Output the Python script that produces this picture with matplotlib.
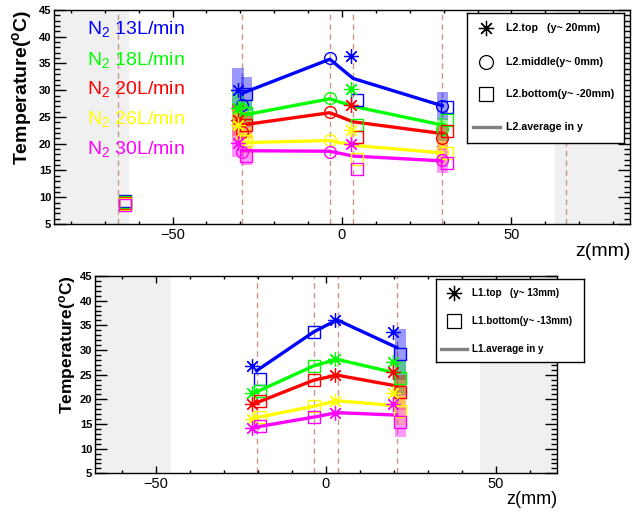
import numpy as np
import matplotlib.pyplot as plt
from matplotlib.ticker import MultipleLocator

plt.rcParams['font.family'] = ['Liberation Sans', 'DejaVu Sans']
plt.rcParams['mathtext.fontset'] = 'custom'
plt.rcParams['mathtext.rm'] = 'Liberation Sans'
plt.rcParams['mathtext.it'] = 'Liberation Sans:italic'
plt.rcParams['mathtext.bf'] = 'Liberation Sans:bold'

# debits d'azote et couleurs
flows = ['13', '18', '20', '26', '30']
colors = ['#0000ff', '#00ff00', '#ff0000', '#ffff00', '#ff00ff']

# ---- L2 (haut) ----
l2_top_z = [-30.7, 2.6]
l2_top = [[30.0, 36.4], [26.6, 30.3], [24.5, 27.2], [23.5, 22.5], [20.1, 20.0]]
l2_top_err = [4.1, 3.0, 3.0, 3.0, 2.5]      # bande a la premiere position
l2_mid_z = [-29.4, -3.6, 29.6]
l2_mid = [[27.3, 36.0, 27.0], [26.5, 28.5, 22.7], [22.2, 26.0, 21.1],
          [20.8, 20.7, 18.4], [18.5, 18.5, 17.0]]
l2_mid_err = [2.6, 2.2, 2.2, 2.2, 2.5]      # bande a la derniere position
l2_bot_z = [-64.0, -28.3, 4.5, 31.0]
l2_bot = [[9.3, 29.3, 28.1, 26.8], [9.1, 25.7, 23.5, 24.4], [8.9, 23.5, 21.2, 22.4],
          [8.8, 20.5, 17.2, 18.3], [8.6, 17.8, 15.2, 16.4]]
l2_bot_err = [3.1, 2.5, 2.5, 2.5, 1.8]      # bande a -28 mm
l2_avg_z = [-29.6, -3.6, 3.3, 29.6]
l2_avg = [[29.4, 35.8, 32.2, 27.1], [25.3, 28.4, 27.0, 23.5], [23.5, 25.8, 24.1, 21.9],
          [20.2, 20.6, 19.7, 18.3], [18.7, 18.6, 17.7, 16.8]]
l2_dashes = [-66, -29.6, -3.6, 3.3, 29.6, 66]
l2_gray = 63

# ---- L1 (bas) ----
l1_top_z = [-21.7, 2.8, 19.7]
l1_top = [[26.8, 36.1, 33.6], [21.3, 28.1, 27.6], [19.1, 24.9, 25.6],
          [16.1, 19.7, 21.2], [14.1, 17.3, 19.1]]
l1_bot_z = [-19.4, -3.5, 21.9]
l1_bot = [[24.1, 33.7, 29.1], [21.7, 26.8, 24.3], [19.7, 23.9, 21.4],
          [16.5, 18.6, 17.7], [14.6, 16.4, 15.3]]
l1_bot_err = [5.1, 3.5, 3.5, 3.0, 2.9]      # bande a la derniere position
l1_avg_z = [-20.4, -3.5, 3.3, 20.9]
l1_avg = [[25.8, 33.7, 36.1, 30.5], [21.5, 26.8, 28.1, 25.3], [19.3, 23.9, 24.9, 22.7],
          [16.3, 18.6, 19.7, 18.7], [14.4, 16.4, 17.3, 16.8]]
l1_dashes = [-20.4, -3.5, 3.6, 20.9]
l1_gray = 45.5

star = (8, 2, 0)
dash_col = '#c8968c'
W, H = 633, 514

fig = plt.figure(figsize=(6.33, 5.14), dpi=100)


def frame(ax, xmax, gray, dashes):
    ax.set_xlim(-xmax, xmax)
    ax.set_ylim(5, 45)
    ax.axvspan(-xmax, -gray, color='#f0f0f0', lw=0, zorder=0)
    ax.axvspan(gray, xmax, color='#f0f0f0', lw=0, zorder=0)
    for d in dashes:
        ax.axvline(d, color=dash_col, ls=(0, (4, 3)), lw=1.0, zorder=1)
    ax.xaxis.set_major_locator(MultipleLocator(50))
    ax.xaxis.set_minor_locator(MultipleLocator(10))
    ax.yaxis.set_major_locator(MultipleLocator(5))
    ax.yaxis.set_minor_locator(MultipleLocator(1))
    ax.tick_params(which='both', direction='in', top=True, right=True, width=1.0)
    ax.tick_params(axis='y', which='major', length=8.5, pad=2.0, labelsize=8)
    ax.tick_params(axis='y', which='minor', length=4.3)
    ax.tick_params(axis='x', which='major', length=5, pad=3, labelsize=10.5)
    ax.tick_params(axis='x', which='minor', length=2.5)
    for lbl in ax.get_yticklabels():
        lbl.set_fontweight('bold')
    for s in ax.spines.values():
        s.set_linewidth(1.0)


def legend_box(rect, handles):
    lg = fig.add_axes(rect)
    lg.set_xlim(0, 1)
    lg.set_ylim(0, 1)
    lg.set_xticks([])
    lg.set_yticks([])
    lg.set_facecolor('white')
    for s in lg.spines.values():
        s.set_linewidth(1.0)
    for kind, y, text, fs in handles:
        if kind == 'line':
            lg.plot([0.038, 0.21], [y, y], color='#808080', lw=2.4)
        else:
            lg.plot(0.125, y, marker=kind, ms=11 if kind == star else 10, mfc='none',
                    mec='black', mew=0.9)
        lg.text(0.248, y, text, fontsize=fs, fontweight='bold', va='center', ha='left')


# ======== panneau du haut ========
ax1 = fig.add_axes([54 / W, 1 - 224 / H, 576 / W, 214 / H])
frame(ax1, 85, l2_gray, l2_dashes)

for i, c in enumerate(colors):
    ax1.bar(l2_top_z[0], 2 * l2_top_err[i], bottom=l2_top[i][0] - l2_top_err[i],
            width=3.3, color=c, alpha=0.4, lw=0, zorder=2)
    ax1.bar(l2_bot_z[1], 2 * l2_bot_err[i], bottom=l2_bot[i][1] - l2_bot_err[i],
            width=3.3, color=c, alpha=0.4, lw=0, zorder=2)
    ax1.bar(l2_mid_z[2], 2 * l2_mid_err[i], bottom=l2_mid[i][2] - l2_mid_err[i],
            width=3.2, color=c, alpha=0.4, lw=0, zorder=2)

for i, c in enumerate(colors):
    ax1.plot(l2_avg_z, l2_avg[i], color=c, lw=2.4, zorder=3)
    ax1.plot(l2_top_z, l2_top[i], ls='none', marker=star, ms=10.5, mec=c, mew=0.9, zorder=4)
    ax1.plot(l2_mid_z, l2_mid[i], ls='none', marker='o', ms=8.5, mfc='none', mec=c,
             mew=1.0, zorder=4)
    ax1.plot(l2_bot_z, l2_bot[i], ls='none', marker='s', ms=8.5, mfc='none', mec=c,
             mew=1.0, zorder=4)

label_T = [41.4, 35.6, 30.2, 24.6, 19.0]
for i, c in enumerate(colors):
    ax1.text(-75.2, label_T[i], r'N$_2$ ' + flows[i] + 'L/min', color=c,
             fontsize=14, va='center', ha='left', zorder=5)

fig.text(22 / W, 1 - 10 / H, r'Temperature($^{\mathbf{o}}$C)', rotation=90,
         fontsize=14, fontweight='bold', ha='center', va='top')
fig.text(631 / W, 1 - 252 / H, 'z(mm)', fontsize=14, ha='right', va='center')

legend_box([466.7 / W, 1 - 143.3 / H, 157.3 / W, 130.6 / H],
           [(star, 0.881, 'L2.top   (y~ 20mm)', 7.7),
            ('o', 0.625, 'L2.middle(y~ 0mm)', 7.7),
            ('s', 0.375, 'L2.bottom(y~ -20mm)', 7.7),
            ('line', 0.127, 'L2.average in y', 7.7)])

# ======== panneau du bas ========
ax2 = fig.add_axes([95 / W, 1 - 473.3 / H, 461.7 / W, 197.3 / H])
frame(ax2, 68, l1_gray, l1_dashes)

for i, c in enumerate(colors):
    ax2.bar(l1_bot_z[2], 2 * l1_bot_err[i], bottom=l1_bot[i][2] - l1_bot_err[i],
            width=3.2, color=c, alpha=0.4, lw=0, zorder=2)

for i, c in enumerate(colors):
    ax2.plot(l1_avg_z, l1_avg[i], color=c, lw=2.4, zorder=3)
    ax2.plot(l1_top_z, l1_top[i], ls='none', marker=star, ms=10.5, mec=c, mew=0.9, zorder=4)
    ax2.plot(l1_bot_z, l1_bot[i], ls='none', marker='s', ms=8.5, mfc='none', mec=c,
             mew=1.0, zorder=4)

fig.text(68 / W, 1 - 275 / H, r'Temperature($^{\mathbf{o}}$C)', rotation=90,
         fontsize=12.5, fontweight='bold', ha='center', va='top')
fig.text(557 / W, 1 - 500 / H, 'z(mm)', fontsize=13, ha='right', va='center')

legend_box([435.7 / W, 1 - 361.7 / H, 148.3 / W, 82.7 / H],
           [(star, 0.827, 'L1.top   (y~ 13mm)', 7.1),
            ('s', 0.496, 'L1.bottom(y~ -13mm)', 7.1),
            ('line', 0.154, 'L1.average in y', 7.1)])

fig.savefig('out.png', dpi=100)
